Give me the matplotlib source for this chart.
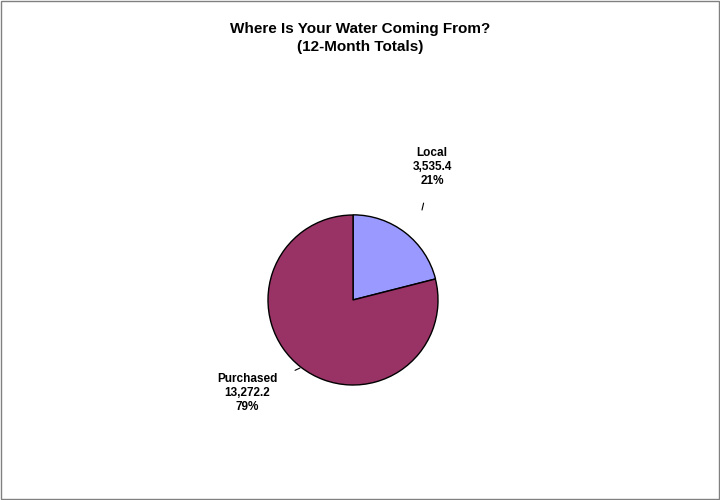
import matplotlib
matplotlib.use("Agg")
import matplotlib.pyplot as plt
from matplotlib.patches import Rectangle

categories = ["Local", "Purchased"]
values = [3535.4, 13272.2]
colors = ["#9999FF", "#993366"]

plt.rcParams['font.family'] = ['Liberation Sans', 'DejaVu Sans']
fig = plt.figure(figsize=(7.2, 5), dpi=100)
ax = fig.add_axes([0, 0, 1, 1])
fig.patches.append(Rectangle((0.001, 0.002), 0.997, 0.996, transform=fig.transFigure,
                             fill=False, edgecolor='#808080', linewidth=1))

wedges, _ = ax.pie(values, colors=colors, startangle=90, counterclock=False,
                   explode=[0.2, 0], center=(353, 200), radius=85,
                   wedgeprops=dict(edgecolor='black', linewidth=1))
ax.set_xlim(0, 720); ax.set_ylim(0, 500); ax.set_aspect('equal'); ax.axis('off')
total = sum(values)
labels = [f"{c}\n{v:,.1f}\n{round(100*v/total)}%" for c, v in zip(categories, values)]
ax.annotate(labels[0], xy=(422, 290), xytext=(432, 333), ha='center', va='center',
            fontsize=8.5, fontweight='bold',
            arrowprops=dict(arrowstyle='-', color='black', lw=0.8, shrinkB=0, shrinkA=10))
ax.annotate(labels[1], xy=(300, 132), xytext=(247, 107), ha='center', va='center',
            fontsize=8.5, fontweight='bold',
            arrowprops=dict(arrowstyle='-', color='black', lw=0.8, shrinkB=0, shrinkA=12))
ax.text(360, 462, "Where Is Your Water Coming From?\n(12-Month Totals)", ha='center', va='center',
        fontsize=11, fontweight='bold', linespacing=1.3)
fig.savefig("out.png", dpi=100)
